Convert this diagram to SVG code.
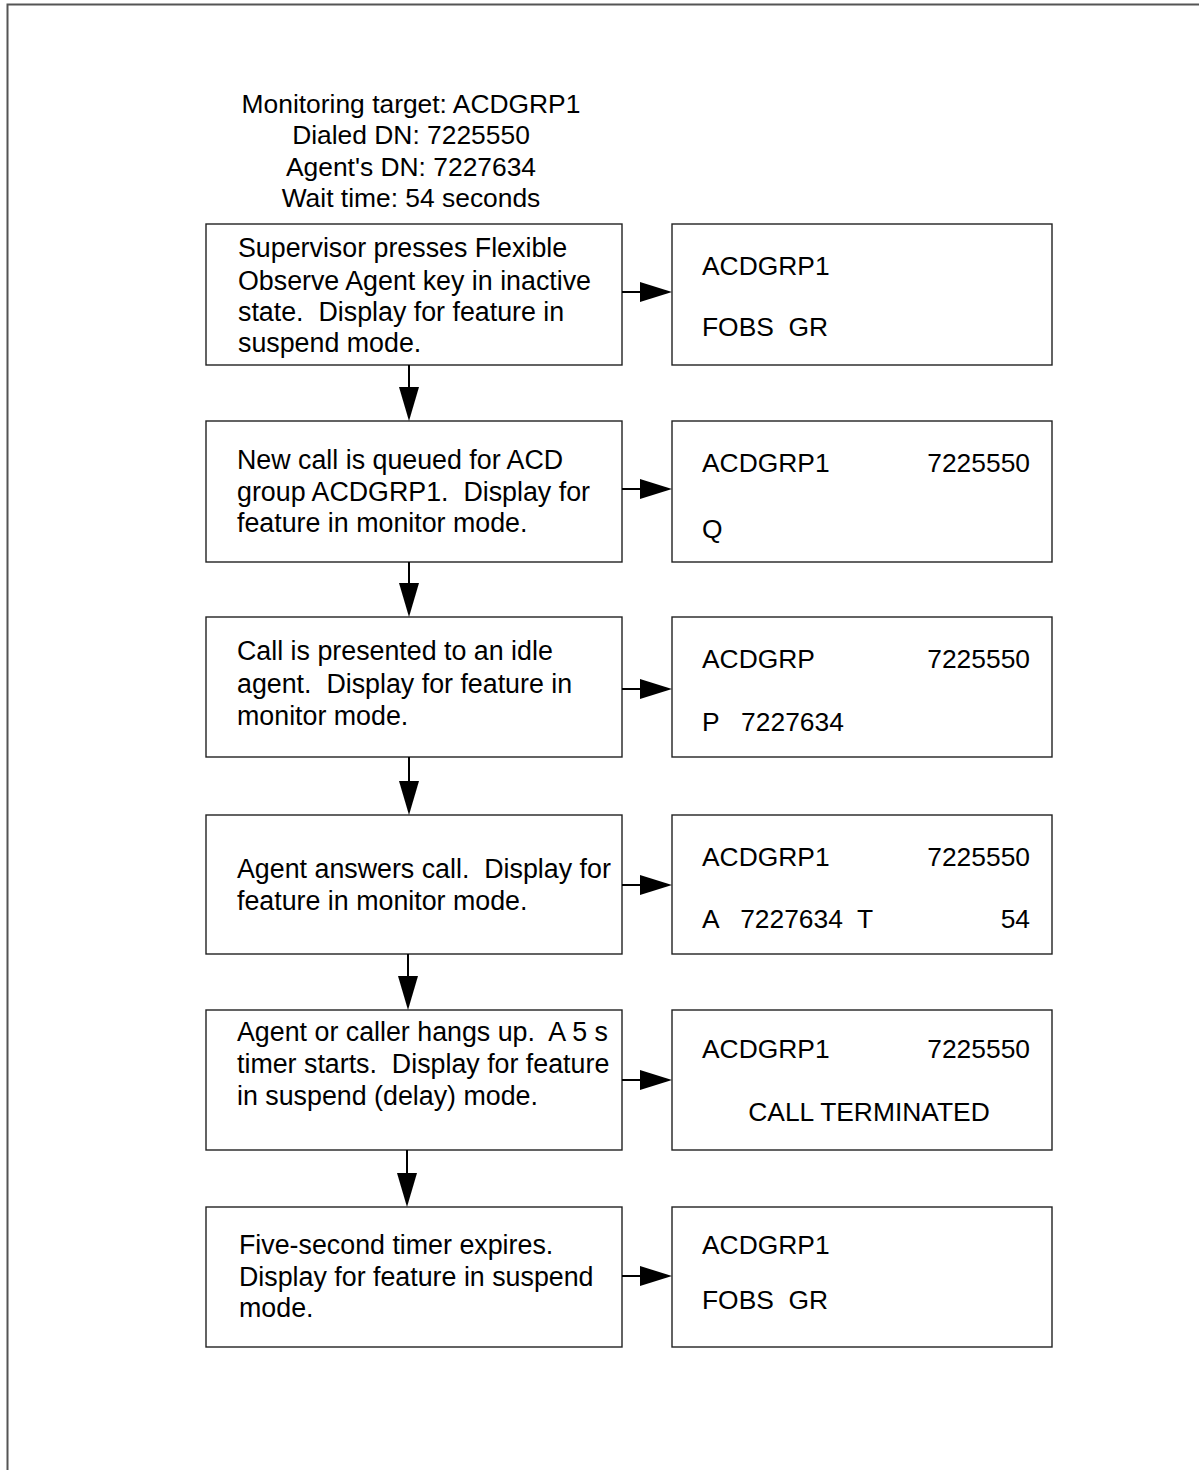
<svg xmlns="http://www.w3.org/2000/svg" width="1199" height="1470" viewBox="0 0 1199 1470">
<style>
text{font-family:"Liberation Sans",Arial,sans-serif;font-size:26.4px;fill:#000;white-space:pre}
.s{font-size:26.8px}
.box{fill:#fff;stroke:#222;stroke-width:1.4}
.ln{stroke:#000;stroke-width:2;fill:none}
.hd{fill:#000}
.r{text-anchor:end}
.c{text-anchor:middle}
</style>
<rect width="1199" height="1470" fill="#fff"/>
<path d="M7.5,1470 V4.5 H1199" fill="none" stroke="#555" stroke-width="2"/>
<g id="header">
<text class="c" x="411" y="113">Monitoring target: ACDGRP1</text>
<text class="c" x="411" y="144">Dialed DN: 7225550</text>
<text class="c" x="411" y="176">Agent's DN: 7227634</text>
<text class="c" x="411" y="207">Wait time: 54 seconds</text>
</g>
<g id="step1">
<rect class="box" x="206" y="224" width="416" height="141"/>
<text class="s" x="238" y="257">Supervisor presses Flexible</text>
<text class="s" x="238" y="290">Observe Agent key in inactive</text>
<text class="s" x="238" y="321" xml:space="preserve">state.  Display for feature in</text>
<text class="s" x="238" y="352">suspend mode.</text>
</g>
<g id="display1">
<rect class="box" x="672" y="224" width="380" height="141"/>
<text x="702" y="275">ACDGRP1</text>
<text x="702" y="336" xml:space="preserve">FOBS  GR</text>
</g>
<g id="step2">
<rect class="box" x="206" y="421" width="416" height="141"/>
<text class="s" x="237" y="469">New call is queued for ACD</text>
<text class="s" x="237" y="501" xml:space="preserve">group ACDGRP1.  Display for</text>
<text class="s" x="237" y="532">feature in monitor mode.</text>
</g>
<g id="display2">
<rect class="box" x="672" y="421" width="380" height="141"/>
<text x="702" y="472">ACDGRP1</text>
<text class="r" x="1030" y="472">7225550</text>
<text x="702" y="538">Q</text>
</g>
<g id="step3">
<rect class="box" x="206" y="617" width="416" height="140"/>
<text class="s" x="237" y="660">Call is presented to an idle</text>
<text class="s" x="237" y="693" xml:space="preserve">agent.  Display for feature in</text>
<text class="s" x="237" y="725">monitor mode.</text>
</g>
<g id="display3">
<rect class="box" x="672" y="617" width="380" height="140"/>
<text x="702" y="668">ACDGRP</text>
<text class="r" x="1030" y="668">7225550</text>
<text x="702" y="731" xml:space="preserve">P   7227634</text>
</g>
<g id="step4">
<rect class="box" x="206" y="815" width="416" height="139"/>
<text class="s" x="237" y="878" xml:space="preserve">Agent answers call.  Display for</text>
<text class="s" x="237" y="910">feature in monitor mode.</text>
</g>
<g id="display4">
<rect class="box" x="672" y="815" width="380" height="139"/>
<text x="702" y="866">ACDGRP1</text>
<text class="r" x="1030" y="866">7225550</text>
<text x="702" y="928" xml:space="preserve">A   7227634  T</text>
<text class="r" x="1030" y="928">54</text>
</g>
<g id="step5">
<rect class="box" x="206" y="1010" width="416" height="140"/>
<text class="s" x="237" y="1041" xml:space="preserve">Agent or caller hangs up.  A 5 s</text>
<text class="s" x="237" y="1073" xml:space="preserve">timer starts.  Display for feature</text>
<text class="s" x="237" y="1105">in suspend (delay) mode.</text>
</g>
<g id="display5">
<rect class="box" x="672" y="1010" width="380" height="140"/>
<text x="702" y="1058">ACDGRP1</text>
<text class="r" x="1030" y="1058">7225550</text>
<text class="c" x="869" y="1121">CALL TERMINATED</text>
</g>
<g id="step6">
<rect class="box" x="206" y="1207" width="416" height="140"/>
<text class="s" x="239" y="1254">Five-second timer expires.</text>
<text class="s" x="239" y="1286">Display for feature in suspend</text>
<text class="s" x="239" y="1317">mode.</text>
</g>
<g id="display6">
<rect class="box" x="672" y="1207" width="380" height="140"/>
<text x="702" y="1254">ACDGRP1</text>
<text x="702" y="1309" xml:space="preserve">FOBS  GR</text>
</g>
<g id="connectors">
<path class="ln" d="M622,292 H642"/><path class="hd" d="M640,282 L672,292 L640,302 Z"/>
<path class="ln" d="M622,489 H642"/><path class="hd" d="M640,479 L672,489 L640,499 Z"/>
<path class="ln" d="M622,689 H642"/><path class="hd" d="M640,679 L672,689 L640,699 Z"/>
<path class="ln" d="M622,885 H642"/><path class="hd" d="M640,875 L672,885 L640,895 Z"/>
<path class="ln" d="M622,1080 H642"/><path class="hd" d="M640,1070 L672,1080 L640,1090 Z"/>
<path class="ln" d="M622,1276 H642"/><path class="hd" d="M640,1266 L672,1276 L640,1286 Z"/>
<path class="ln" d="M409,365 V390"/><path class="hd" d="M399,387 L419,387 L409,421 Z"/>
<path class="ln" d="M409,562 V586"/><path class="hd" d="M399,583 L419,583 L409,617 Z"/>
<path class="ln" d="M409,757 V784"/><path class="hd" d="M399,781 L419,781 L409,815 Z"/>
<path class="ln" d="M408,954 V979"/><path class="hd" d="M398,976 L418,976 L408,1010 Z"/>
<path class="ln" d="M407,1150 V1176"/><path class="hd" d="M397,1173 L417,1173 L407,1207 Z"/>
</g>
</svg>
